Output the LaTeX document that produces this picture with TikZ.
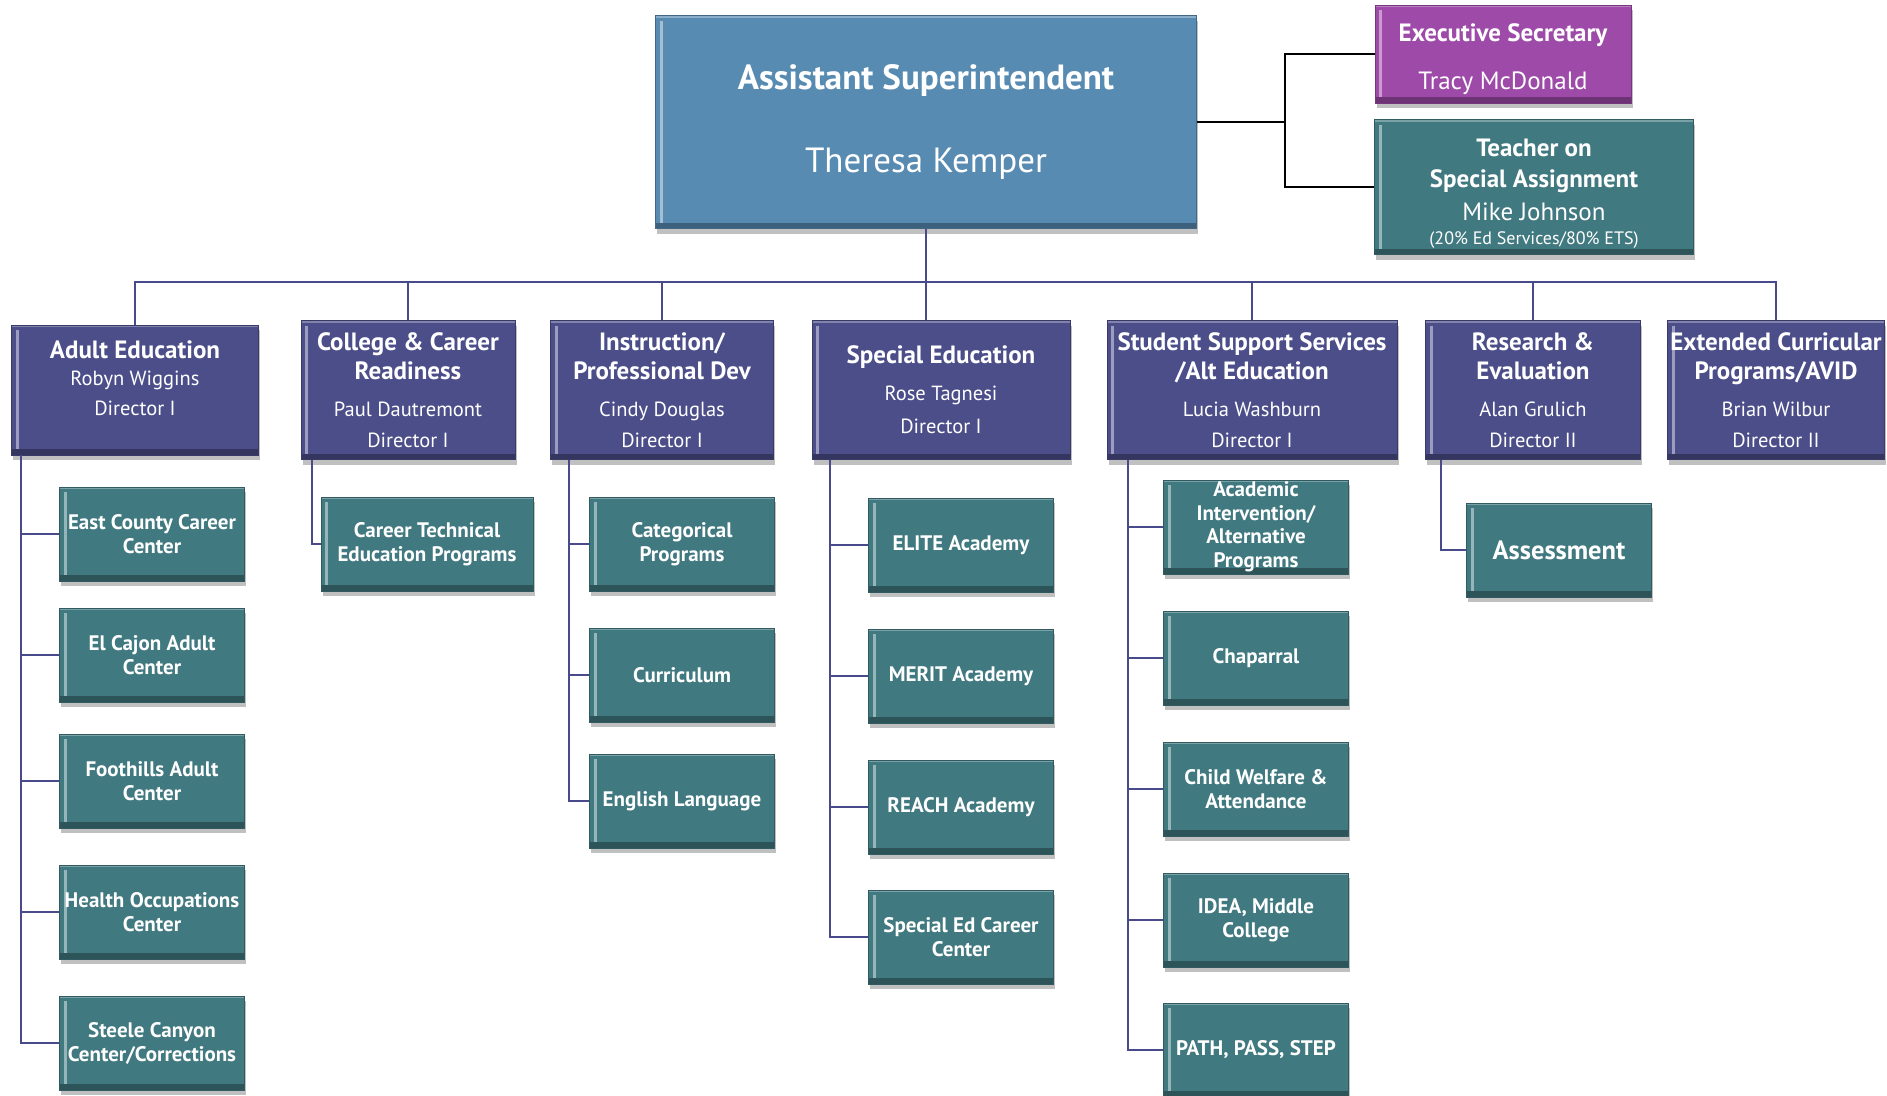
\documentclass[tikz,border=0pt]{standalone}
\usepackage{fontspec}
\setmainfont{PT Sans}
\usetikzlibrary{shadows}
\definecolor{supblue}{RGB}{88,139,178}
\definecolor{secpurple}{RGB}{157,74,168}
\definecolor{unitteal}{RGB}{65,121,128}
\definecolor{dirblue}{RGB}{76,78,138}
\definecolor{linkblue}{RGB}{72,74,140}
\newcommand{\hd}[1]{{\fontsize{25}{29}\selectfont\bfseries #1}}

\begin{document}
\begin{tikzpicture}[x=1pt,y=-1pt]
   \tikzset{bevel/.style={draw=#1!75!black, fill=#1, line width=0.6pt, text=white, align=center, inner sep=0pt,
      drop shadow={shadow xshift=1.5pt, shadow yshift=-5pt, opacity=0.35, fill=black!70},
      path picture={
         \fill[white, opacity=0.45] ([xshift=4pt,yshift=6pt]path picture bounding box.south west) rectangle ([xshift=7pt,yshift=-5pt]path picture bounding box.north west);
         \fill[black, opacity=0.3] (path picture bounding box.south west) rectangle ([yshift=6pt]path picture bounding box.south east);
         \fill[white, opacity=0.3] ([yshift=-2pt]path picture bounding box.north west) rectangle (path picture bounding box.north east);}}}
   \tikzset{dir/.style={bevel=dirblue, minimum height=139pt, font=\fontsize{20.5}{29}\selectfont}}
   \tikzset{unit/.style={bevel=unitteal, minimum width=185pt, minimum height=94pt, font=\fontsize{21}{24}\selectfont\bfseries}}
   \tikzset{link/.style={draw=linkblue, line width=1.8pt}}
   \tikzset{staff/.style={draw=black, line width=2.4pt}}
   \fill[white] (0,0) rectangle (1887,1095);
   \useasboundingbox (0,0) rectangle (1887,1095);
   \node[bevel=supblue, minimum width=541pt, minimum height=213pt, font=\fontsize{35}{42}\selectfont] (sup) at (926,122)
      {{\bfseries Assistant Superintendent}\\[41pt]Theresa Kemper};
   \node[bevel=secpurple, minimum width=256pt, minimum height=98pt, font=\fontsize{25}{30}\selectfont] (sec) at (1503,54)
      {\mbox{}\\[-2pt]{\bfseries Executive Secretary}\\[18pt]Tracy McDonald};
   \node[bevel=unitteal, minimum width=319pt, minimum height=135pt, font=\fontsize{25}{31}\selectfont] (tosa) at (1534,187)
      {\mbox{}\\[-1pt]{\bfseries Teacher on}\\{\bfseries Special Assignment}\\[2pt]Mike Johnson\\[-7pt]{\fontsize{18}{20}\selectfont(20\% Ed Services/80\% ETS)}};
   \node[dir, minimum width=247pt, minimum height=130pt] (adult) at (135,390)
      {\hd{Adult Education}\\[-2pt]Robyn Wiggins\\[1pt]Director I\\[-5pt]\mbox{}};
   \node[dir, minimum width=214pt] (ccr) at (408,390)
      {\hd{College \& Career}\\\hd{Readiness}\\[8pt]Paul Dautremont\\[2pt]Director I};
   \node[dir, minimum width=223pt] (ipd) at (662,390)
      {\hd{Instruction/}\\\hd{Professional Dev}\\[8pt]Cindy Douglas\\[2pt]Director I};
   \node[dir, minimum width=258pt] (sped) at (941,390)
      {\hd{Special Education}\\[8pt]Rose Tagnesi\\[4pt]Director I};
   \node[dir, minimum width=290pt] (sss) at (1252,390)
      {\hd{Student Support Services}\\\hd{/Alt Education}\\[8pt]Lucia Washburn\\[2pt]Director I};
   \node[dir, minimum width=215pt] (rne) at (1533,390)
      {\hd{Research \&}\\\hd{Evaluation}\\[8pt]Alan Grulich\\[2pt]Director II};
   \node[dir, minimum width=217pt] (ecp) at (1776,390)
      {\hd{Extended Curricular}\\\hd{Programs/AVID}\\[8pt]Brian Wilbur\\[2pt]Director II};
   \node[unit] (ecc) at (152,534) {East County Career\\Center};
   \node[unit] (ecac) at (152,655) {El Cajon Adult\\Center};
   \node[unit] (fac) at (152,781) {Foothills Adult\\Center};
   \node[unit] (hoc) at (152,912) {Health Occupations\\Center};
   \node[unit] (scc) at (152,1043) {Steele Canyon\\Center/Corrections};
   \node[unit, minimum width=212pt] (cte) at (427,544) {Career Technical\\Education Programs};
   \node[unit] (cat) at (682,544) {Categorical\\Programs};
   \node[unit] (cur) at (682,675) {Curriculum};
   \node[unit] (eng) at (682,801) {English Language};
   \node[unit] (elite) at (961,545) {ELITE Academy};
   \node[unit] (merit) at (961,676) {MERIT Academy};
   \node[unit] (reach) at (961,807) {REACH Academy};
   \node[unit] (secc) at (961,937) {Special Ed Career\\Center};
   \node[unit, font=\fontsize{21}{23.5}\selectfont\bfseries] (aia) at (1256,527) {Academic\\Intervention/\\Alternative\\Programs};
   \node[unit] (chap) at (1256,658) {Chaparral};
   \node[unit] (cwa) at (1256,789) {Child Welfare \&\\Attendance};
   \node[unit] (idea) at (1256,920) {IDEA, Middle\\College};
   \node[unit] (pps) at (1256,1050) {PATH, PASS, STEP};
   \node[unit, font=\fontsize{26.5}{30}\selectfont\bfseries] (assess) at (1559,550) {Assessment};
   \coordinate (bus) at (926,282);
   \coordinate (fork) at (1285,122);
   \draw[staff] (sup.east) -- (fork) |- (sec.west);
   \draw[staff] (fork) |- (tosa.west);
   \draw[link] (sup.south) -- (sup.south |- sped.north);
   \foreach \d in {adult,ccr,ipd,sss,rne,ecp}
      \draw[link] (bus) -| (\d.north);
   \foreach \c in {ecc,ecac,fac,hoc,scc}
      \draw[link] ([xshift=10pt]adult.south west) |- (\c.west);
   \draw[link] ([xshift=11pt]ccr.south west) |- (cte.west);
   \foreach \c in {cat,cur,eng}
      \draw[link] ([xshift=19pt]ipd.south west) |- (\c.west);
   \foreach \c in {elite,merit,reach,secc}
      \draw[link] ([xshift=18pt]sped.south west) |- (\c.west);
   \foreach \c in {aia,chap,cwa,idea,pps}
      \draw[link] ([xshift=21pt]sss.south west) |- (\c.west);
   \draw[link] ([xshift=16pt]rne.south west) |- (assess.west);
\end{tikzpicture}
\end{document}
